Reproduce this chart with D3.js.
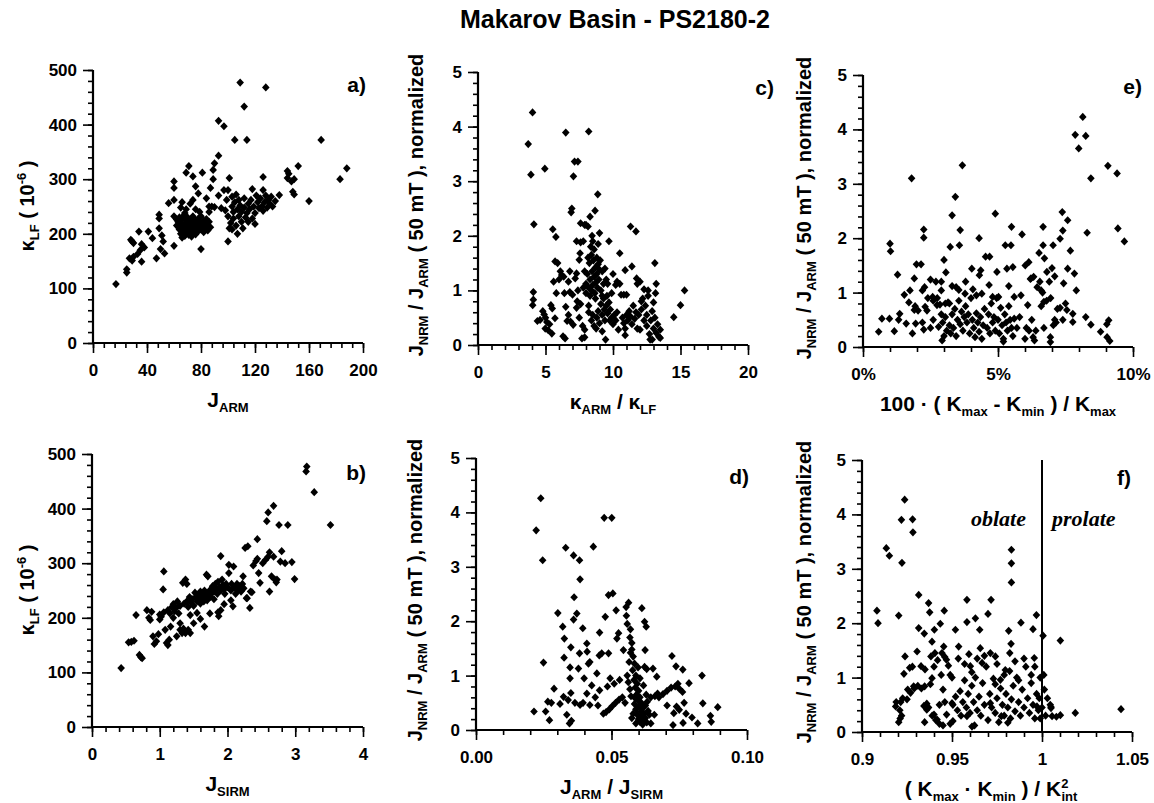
<!DOCTYPE html>
<html>
<head>
<meta charset="utf-8">
<script src="https://d3js.org/d3.v7.min.js"></script>
<style>
  body { margin: 0; background: #fff; }
  text { font-family: "Liberation Sans", Arial, sans-serif; font-weight: bold; fill: #000; }
</style>
</head>
<body>
<div id="grafica"></div>
<script>

// Datos: [x, y] por muestra

// a) J_ARM vs kappa_LF
var aPts = [
  [17,108],[25,135],[25,129],[27,155],[29,151],[30,158],[28,189],[30,183],[29,186],[34,204],[33,163],[35,170],
  [36,181],[36,149],[38,175],[41,204],[44,192],[47,155],[49,235],[49,228],[49,210],[50,172],[51,197],[52,186],
  [53,164],[56,256],[60,296],[60,284],[60,262],[60,178],[60,232],[62,226],
  [65,248],[66,258],[68,238],[69,312],[71,324],[74,305],[76,287],[78,274],[72,255],[74,262],[81,312],[84,265],
  [86,250],[87,284],[89,300],[89,317],[90,329],[93,343],[93,407],[97,397],[105,372],[114,372],[109,477],[112,433],
  [128,468],[80,172],[93,270],[95,247],[97,280],
  [62,215],[63,222],[64,208],[64,230],[65,200],[65,218],[66,212],[66,226],[67,205],[67,233],[68,196],[68,218],
  [69,210],[69,225],[70,203],[70,215],[70,230],[71,198],[71,220],[72,209],[72,226],[73,215],[73,202],[74,220],
  [74,232],[75,207],[75,214],[76,199],[76,224],[77,212],[77,218],[78,205],[78,228],[79,214],[79,221],[80,208],
  [80,232],[81,216],[82,203],[82,224],[83,211],[83,219],[84,227],[85,206],[85,215],[86,222],[87,212],[88,250],
  [90,249],[86,240],[79,240],[76,245],[69,245],[66,193],[73,195],
  [98,243],[99,262],[100,280],[100,232],[101,302],[101,210],[100,186],[102,220],[103,250],[103,268],[104,240],
  [104,228],[105,258],[106,215],[106,272],[107,245],[108,232],[108,262],[109,252],[110,222],[110,240],[111,210],
  [112,265],[112,248],[113,230],[114,238],[115,255],[115,222],[116,245],[117,262],[118,282],[118,228],[119,250],
  [120,238],[121,270],[122,258],[123,247],[124,265],[125,250],[126,304],[126,280],[126,242],[127,258],[128,270],
  [129,248],[130,262],[131,255],[132,268],[133,250],[135,260],[138,271],[144,315],[144,302],[145,310],[147,296],
  [149,300],[148,277],[149,272],[152,324],[160,260],[169,372],[183,300],[188,320],[107,200],[103,208],[120,218]
];

// b) J_SIRM vs kappa_LF
var bPts = [
  [0.43,108],[0.54,155],[0.58,156],[0.62,158],[0.65,205],[0.7,132],[0.72,128],[0.74,126],[0.81,214],[0.84,200],
  [0.86,196],[0.88,211],[0.9,166],[0.92,152],[0.95,157],[0.98,170],[1.0,197],[1.0,206],[1.02,202],[1.05,252],
  [1.06,285],[1.06,210],[1.08,178],[1.1,154],[1.12,150],[1.14,160],[1.16,184],[1.12,214],[1.15,208],[1.18,220],
  [1.2,200],[1.2,225],[1.22,212],[1.24,218],[1.25,166],[1.26,230],[1.28,208],[1.3,222],[1.3,190],[1.33,172],
  [1.35,180],[1.34,264],[1.36,226],[1.38,270],[1.38,172],[1.4,262],[1.4,230],[1.42,220],[1.44,238],[1.45,205],
  [1.46,228],[1.48,234],[1.5,222],[1.52,246],[1.53,238],[1.55,209],[1.55,230],[1.57,240],[1.58,232],[1.6,248],
  [1.6,226],[1.62,236],[1.63,244],[1.65,230],[1.66,184],[1.66,250],[1.68,240],[1.69,279],[1.7,232],[1.71,276],
  [1.72,246],[1.74,238],[1.75,252],[1.76,244],[1.78,258],[1.8,248],[1.8,234],[1.82,262],[1.83,254],[1.85,244],
  [1.86,266],[1.87,203],[1.88,256],[1.9,214],[1.9,313],[1.9,250],[1.92,270],[1.93,260],[1.95,252],[1.96,244],
  [1.98,262],[2.0,256],[2.02,297],[2.02,282],[2.05,250],[2.06,262],[2.08,221],[2.09,294],[2.1,256],[2.12,244],
  [2.14,262],[2.15,250],[2.18,258],[2.2,248],[2.22,262],[2.23,276],[2.24,254],[2.26,328],[2.28,236],[2.29,236],
  [2.3,331],[2.33,218],[2.34,248],[2.36,247],[2.38,296],[2.42,304],[2.44,344],[2.44,308],[2.46,282],[2.48,264],
  [2.52,300],[2.56,306],[2.58,377],[2.6,393],[2.6,312],[2.62,248],[2.62,320],[2.65,276],[2.68,405],[2.68,312],
  [2.7,270],[2.72,265],[2.73,270],[2.76,370],[2.78,303],[2.8,322],[2.85,300],[2.89,370],[2.95,302],[2.99,271],
  [3.16,468],[3.17,477],[3.28,430],[3.52,370],[1.3,178],[1.42,178],[1.5,190],[1.6,198],[1.74,208],[1.86,210],
  [1.95,225],[2.05,232],[1.45,172]
];

// c) kappa_ARM / kappa_LF vs J_NRM / J_ARM
var cPts = [
  [3.72,3.68],[4.04,4.26],[3.92,3.12],[4.14,2.21],[4.1,0.97],[4.1,0.83],[4.05,0.73],[4.4,0.44],[4.6,0.46],[4.8,0.62],
  [4.95,3.23],[4.9,0.56],[5.0,0.5],[5.1,0.42],[4.98,0.3],[5.2,0.27],[5.3,0.38],[5.4,0.73],[5.5,0.67],[5.47,0.21],
  [5.54,2.12],[5.77,1.98],[5.71,1.53],[5.6,1.16],[5.8,0.95],[5.7,0.49],[6.1,1.35],[6.2,1.28],[6.35,1.25],[6.5,3.89],
  [6.3,0.16],[6.45,0.12],[6.5,0.7],[6.7,0.55],[6.7,1.16],[6.6,0.44],[6.95,2.5],[6.9,2.43],[7.07,3.09],[7.15,3.36],
  [7.4,3.36],[6.8,0.97],[7.0,0.92],[7.05,0.37],[6.85,0.43],[7.3,1.31],[7.5,1.56],[7.56,1.68],[7.2,1.22],[7.35,0.8],
  [7.5,0.5],[7.7,0.12],[7.9,0.14],[8.2,3.91],[7.6,2.23],[7.8,1.9],[7.6,1.88],[7.9,2.2],[7.75,0.35],[7.9,0.28],
  [8.87,2.76],[8.67,2.46],[8.3,2.35],[8.15,2.17],[9.7,1.9],[9.0,2.05],[10.5,1.68],[10.0,1.3],[10.3,1.16],[10.9,1.37],
  [11.3,2.17],[11.7,2.08],[11.4,1.44],[11.75,1.22],[12.0,1.16],[12.3,1.02],[13.1,1.5],[13.2,1.12],[13.15,0.95],
  [14.5,0.51],[15.0,0.73],[15.3,1.0],[13.5,0.13],
  [8.0,1.12],[8.1,1.3],[8.2,1.05],[8.25,1.5],[8.3,1.2],[8.35,1.8],[8.4,1.0],[8.4,1.65],[8.45,1.35],[8.5,1.9],
  [8.5,1.1],[8.55,1.55],[8.6,1.25],[8.6,1.75],[8.65,0.95],[8.7,1.42],[8.75,1.15],[8.8,1.6],[8.8,1.3],[8.85,1.05],
  [8.9,1.48],[8.9,1.85],[8.95,1.2],[9.0,1.38],[9.05,1.55],[9.1,1.0],[9.2,1.35],[9.3,1.12],[9.4,1.4],[9.5,1.2],
  [8.3,0.9],[8.15,1.6],[8.0,0.95],[8.45,2.0],[8.7,0.85],
  [8.2,0.6],[8.4,0.45],[8.5,0.55],[8.6,0.35],[8.8,0.5],[8.9,0.62],[9.0,0.4],[9.1,0.75],[9.2,0.55],[9.3,0.85],
  [9.35,0.65],[9.4,0.45],[9.5,0.72],[9.55,0.9],[9.6,0.58],[9.7,0.78],[9.75,0.45],[9.8,0.65],[9.9,0.5],[10.0,0.38],
  [10.1,0.55],[10.2,0.45],[10.3,0.6],[9.45,0.1],[9.2,0.25],[8.75,0.3],[10.4,0.28],[10.6,0.92],[10.8,0.92],[10.7,0.5],
  [10.8,0.4],[10.9,0.3],[11.0,0.55],[10.9,0.18],[11.1,0.45],[11.2,0.62],[11.3,0.52],[11.4,0.38],[11.5,0.72],
  [11.6,0.48],[11.7,0.6],[11.8,0.3],[11.9,0.55],[12.0,0.28],[12.1,0.65],[12.2,0.85],[12.3,0.45],[12.4,0.72],
  [12.5,0.35],[12.5,0.55],[12.6,0.9],[12.7,0.2],[12.8,0.45],[12.9,0.62],[12.75,0.1],[13.0,0.3],[13.1,0.5],
  [13.2,0.22],[13.3,0.38],[13.4,0.15],[13.5,0.28],[13.0,0.78],[12.9,0.1],
  [7.8,1.05],[7.9,1.35],[7.4,1.0],[7.6,0.75],[7.3,0.68],[8.2,0.72],[6.8,1.35],[6.4,0.95],[5.9,1.5],[6.0,1.2],
  [9.6,1.12],[9.9,0.95],[10.2,1.1],[9.2,0.9],[10.5,1.12],[11.0,0.92],[11.8,1.12],[12.6,1.0],[12.1,0.8],[8.0,2.2],[7.3,1.9]
];

// d) J_ARM / J_SIRM vs J_NRM / J_ARM
var dPts = [
  [0.0214,0.34],[0.0222,3.67],[0.0239,4.26],[0.0246,3.12],[0.0249,1.24],[0.0257,0.34],[0.0265,0.52],[0.0271,0.18],
  [0.0278,0.5],[0.0288,0.76],[0.0302,2.15],[0.031,0.48],[0.032,1.9],[0.0326,1.68],[0.0325,1.33],[0.0331,3.35],
  [0.0323,0.61],[0.0335,0.28],[0.0345,0.12],[0.0352,0.17],[0.0347,1.15],[0.0347,0.95],[0.035,1.52],[0.036,3.21],
  [0.0362,2.44],[0.036,2.03],[0.0372,2.14],[0.0382,3.12],[0.0384,2.77],[0.0382,1.41],[0.0378,1.13],[0.0384,0.46],
  [0.0394,1.87],[0.0399,0.95],[0.0409,1.59],[0.041,1.44],[0.0409,0.67],[0.0415,1.22],[0.042,1.25],[0.042,0.46],
  [0.0433,3.37],[0.0427,0.82],[0.0446,1.04],[0.0456,1.79],[0.0456,0.73],[0.0464,1.41],[0.0473,3.9],[0.0501,3.9],
  [0.0489,2.48],[0.0505,2.51],[0.0477,2.08],[0.0489,1.41],[0.0495,0.95],[0.0517,2.2],[0.0526,1.78],[0.052,1.68],
  [0.053,0.92],[0.0544,1.47],[0.0554,2.26],[0.0563,2.34],[0.0612,2.24],[0.0622,1.99],[0.0628,1.9],[0.0624,1.47],
  [0.0622,1.16],[0.063,1.12],[0.0653,1.13],[0.0667,0.98],[0.067,0.67],[0.0658,0.28],[0.0723,1.36],[0.0738,1.17],
  [0.0763,1.11],[0.0786,0.86],[0.0834,1.0],[0.0837,0.49],[0.0892,0.42],[0.0865,0.26],[0.0868,0.15],[0.0818,0.12],
  [0.0797,0.23],[0.0764,0.13],[0.0727,0.09],[0.073,0.31],[0.074,0.43],[0.075,0.37],[0.0775,0.3],[0.0768,0.5],
  [0.0745,0.85],[0.0705,0.45],[0.044,0.6],[0.0455,1.37],[0.0485,0.8],[0.051,0.85],[0.0395,0.5],[0.045,0.45],
  [0.035,0.68],[0.0365,0.5],[0.034,0.55],
  [0.0575,1.48],[0.058,1.35],[0.0585,1.22],[0.0578,1.1],[0.059,1.0],[0.0583,0.92],[0.0595,0.85],[0.0588,0.78],
  [0.06,0.72],[0.0592,0.65],[0.0605,0.6],[0.0598,0.55],[0.061,0.5],[0.0585,0.48],[0.0602,0.44],[0.0615,0.4],
  [0.059,0.38],[0.0608,0.34],[0.062,0.3],[0.0595,0.28],[0.0612,0.25],[0.0625,0.22],[0.06,0.2],[0.0618,0.18],
  [0.0605,0.15],[0.063,0.14],[0.059,0.12],[0.0615,0.1],[0.0625,0.45],[0.0635,0.35],[0.0572,0.62],[0.0568,0.75],
  [0.0562,0.88],[0.0558,1.0],[0.0565,1.25],[0.057,1.42],[0.0598,1.15],[0.0605,0.95],[0.0618,0.82],[0.0628,0.65],
  [0.0632,0.52],[0.064,0.28],[0.0645,0.12],[0.058,0.3],[0.0575,0.22],[0.0588,0.58],
  [0.047,0.3],[0.048,0.33],[0.0492,0.38],[0.0503,0.44],[0.0515,0.5],[0.0528,0.56],[0.054,0.6],[0.055,0.5],
  [0.0645,0.6],[0.066,0.62],[0.0675,0.6],[0.069,0.66],[0.0705,0.72],[0.072,0.78],[0.0735,0.8],[0.075,0.76],[0.0762,0.7],
  [0.0555,2.1],[0.0558,1.95],[0.057,1.85],[0.0568,1.7],[0.0575,1.6]
];

// e) anisotropia 100*(Kmax-Kmin)/Kmax (%) vs J_NRM / J_ARM
var ePts = [
  [0.58,0.28],[0.7,0.52],[0.98,0.52],[1.0,1.9],[1.02,1.76],[1.16,0.29],[1.28,1.33],[1.36,0.61],[1.32,0.5],
  [1.53,0.96],[1.6,0.43],[1.74,1.04],[1.8,3.1],[1.83,0.25],[1.9,1.26],[1.93,0.75],[1.95,0.43],[1.98,1.52],
  [2.04,0.67],[2.15,1.52],[2.25,2.16],[2.25,2.01],[2.25,0.32],[2.3,0.74],[2.2,1.04],[2.28,1.1],[2.37,0.67],
  [2.5,1.24],[2.58,0.92],[2.74,0.77],[2.7,1.2],[2.9,1.2],[2.9,1.04],[2.8,0.37],[2.93,0.12],[3.0,1.6],[3.07,1.37],
  [3.23,1.84],[3.3,2.42],[3.42,2.76],[3.6,2.15],[3.57,1.87],[3.68,3.34],[3.8,1.2],[3.78,0.98],[4.3,2.0],
  [4.31,1.32],[4.36,1.41],[4.07,1.06],[4.03,1.44],[4.54,1.66],[4.69,1.66],[4.67,1.14],[4.9,2.45],[4.96,1.38],
  [5.02,0.92],[5.27,1.87],[5.48,1.87],[5.33,1.44],[5.5,2.21],[5.55,1.47],[5.89,2.07],[6.01,1.5],[6.14,1.56],
  [6.22,1.26],[6.32,1.29],[6.1,0.77],[6.67,2.21],[6.67,1.87],[6.72,1.63],[6.81,1.38],[6.52,1.73],[6.6,1.04],
  [6.7,0.83],[7.04,1.87],[7.3,1.99],[7.38,2.48],[7.4,2.14],[7.43,1.17],[7.58,2.33],[7.68,1.77],[7.58,1.44],
  [7.83,1.35],[7.9,1.04],[7.77,0.61],[7.77,0.46],[7.86,3.9],[7.99,3.65],[8.14,4.23],[8.25,3.88],[8.3,2.1],
  [8.25,0.55],[8.44,3.1],[8.44,0.41],[9.07,3.33],[9.41,3.19],[9.44,2.18],[9.68,1.94],[9.1,0.49],[9.03,0.42],
  [8.8,0.28],[9.04,0.18],[9.14,0.11],[6.94,0.18],[6.94,0.09],
  [2.95,0.45],[3.0,0.2],[3.05,0.55],[3.1,0.3],[3.15,0.82],[3.2,0.4],[3.25,0.25],[3.3,0.6],[3.35,0.35],[3.4,0.7],
  [3.45,0.2],[3.5,0.5],[3.55,0.85],[3.6,0.42],[3.65,0.65],[3.7,0.3],[3.75,0.55],[3.8,0.75],[3.85,0.45],[3.9,0.6],
  [3.95,0.25],[4.0,0.9],[4.05,0.5],[4.1,0.35],[4.15,0.18],[4.2,0.62],[4.25,0.45],[4.3,0.28],[4.35,0.55],[4.4,0.15],
  [4.45,0.4],[4.5,0.7],[3.05,0.8],[3.2,0.8],[3.45,1.1],[3.55,1.05],[3.3,1.12],[4.2,0.95],[4.4,0.98],
  [4.6,0.35],[4.65,0.6],[4.7,0.25],[4.75,0.8],[4.8,0.45],[4.85,0.55],[4.9,0.3],[4.95,0.9],[5.0,0.5],[5.05,0.25],
  [5.1,0.72],[5.15,0.4],[5.2,0.15],[5.25,0.6],[5.3,0.45],[5.35,0.3],[5.4,0.75],[5.45,0.5],[5.5,0.35],[5.55,0.2],
  [5.6,0.52],[5.7,0.35],[5.8,0.55],[5.85,0.95],[5.2,0.1],[4.8,0.92],[5.4,1.12],[5.6,0.92],
  [6.0,0.15],[6.05,0.35],[6.15,0.3],[6.2,1.25],[6.25,0.5],[6.3,0.18],[6.35,0.12],[6.4,0.3],[6.45,1.1],[6.55,1.2],
  [6.6,0.75],[6.65,1.0],[6.9,1.2],[6.95,0.9],[7.0,1.45],[7.05,0.4],[7.1,1.3],[7.15,0.45],[7.2,0.7],[7.3,0.72],
  [7.4,0.5],[7.5,0.8],[7.55,0.68],[7.1,0.5],[6.8,0.85],[6.7,0.35],
  [2.4,0.9],[2.6,0.85],[2.75,0.9],[2.85,0.78],[2.9,0.6],[2.6,0.5],[2.5,0.35],[2.2,0.45],[1.9,0.68],[1.7,0.82]
];

// f) forma (Kmax*Kmin)/Kint^2 vs J_NRM / J_ARM
var fPts = [
  [0.9083,2.23],[0.9089,2.0],[0.9135,3.38],[0.9152,3.24],[0.9187,0.47],[0.919,0.55],[0.9204,2.14],[0.9204,0.18],
  [0.9212,0.25],[0.9219,3.9],[0.9222,3.11],[0.9237,4.27],[0.9233,1.07],[0.9239,1.39],[0.9226,0.62],[0.9281,3.91],
  [0.9283,3.67],[0.9254,0.78],[0.9265,1.18],[0.9287,0.84],[0.9315,2.52],[0.9315,1.91],[0.9306,1.48],[0.9328,1.21],
  [0.9346,1.81],[0.9348,0.84],[0.9344,0.48],[0.9348,0.18],[0.936,0.41],[0.937,2.37],[0.9376,2.2],[0.9383,1.39],
  [0.9389,0.99],[0.9389,1.66],[0.9402,1.88],[0.94,0.32],[0.9417,0.23],[0.9435,1.99],[0.9444,1.45],[0.9454,1.57],
  [0.945,0.78],[0.9457,2.23],[0.9469,1.33],[0.949,1.05],[0.95,0.53],[0.9519,1.88],[0.9537,1.57],[0.9505,0.2],
  [0.9583,2.43],[0.9583,2.02],[0.9594,1.43],[0.9602,1.21],[0.9583,0.29],[0.9611,0.1],[0.963,2.09],[0.9654,1.88],
  [0.9657,1.54],[0.9667,1.27],[0.97,2.17],[0.9717,2.43],[0.9713,1.45],[0.9713,0.53],[0.9741,1.39],[0.9769,0.96],
  [0.9774,0.29],[0.9796,1.14],[0.9815,1.86],[0.9821,1.45],[0.9828,1.62],[0.983,3.35],[0.983,3.1],[0.983,2.75],
  [0.981,0.17],[0.9883,2.01],[0.9969,2.15],[0.995,1.89],[0.9957,1.36],[0.9972,0.47],[1.0006,1.77],[1.001,1.05],
  [1.0013,0.78],[1.0046,0.5],[1.005,0.44],[1.0056,0.29],[1.0102,1.68],[1.0102,0.31],[1.0185,0.35],[1.0439,0.42],
  [0.9505,0.5],[0.952,0.65],[0.953,0.4],[0.9545,0.75],[0.955,0.3],[0.956,0.55],[0.957,0.95],[0.958,0.45],[0.959,0.7],
  [0.96,0.35],[0.961,0.85],[0.962,0.55],[0.9625,0.12],[0.963,1.0],[0.964,0.4],[0.965,0.65],[0.966,0.3],[0.967,0.9],
  [0.968,0.5],[0.969,1.2],[0.97,0.22],[0.971,0.7],[0.972,0.45],[0.973,0.98],[0.974,0.35],[0.975,0.62],[0.976,0.18],
  [0.977,0.8],[0.978,0.5],[0.979,0.3],[0.98,0.7],[0.981,0.45],[0.982,1.12],[0.9825,0.25],[0.983,0.6],[0.984,0.85],
  [0.985,0.38],[0.986,1.0],[0.987,0.55],[0.988,0.3],[0.989,0.78],[0.99,0.45],[0.991,1.2],[0.992,0.62],[0.993,0.35],
  [0.994,0.9],[0.995,0.5],[0.996,0.25],[0.997,0.7],[0.998,0.4],[0.999,1.0],[0.9985,0.62],[0.9535,1.35],[0.957,1.25],
  [0.961,1.1],[0.964,1.35],[0.968,1.4],[0.975,1.25],[0.979,1.05],[0.985,1.3],[0.99,1.35],[0.996,1.2],[0.994,1.05],
  [0.987,0.95],[0.974,0.88],
  [0.921,0.4],[0.922,0.3],[0.9215,0.55],[0.925,0.6],[0.927,0.72],[0.929,0.8],[0.931,0.85],[0.933,0.8],[0.936,0.52],
  [0.937,0.45],[0.939,0.3],[0.941,0.22],[0.943,0.15],[0.945,0.12],[0.947,0.32],[0.949,0.15],[0.938,0.88],[0.94,1.2],
  [0.942,1.32],[0.944,1.05],[0.946,1.38],[0.948,1.22],[0.95,1.0],[0.946,0.55],[0.943,0.5],[0.928,1.2],[0.935,1.15],
  [0.9405,1.45],[1.0,0.45],[1.002,0.3],[1.003,0.62],[1.005,0.46],[1.008,0.28],[0.999,0.25]
];

// Etiquetas de los ejes
var kTicks = [0, 100, 200, 300, 400, 500];
var ratioTicks = [0, 1, 2, 3, 4, 5];
var aXTicks = [0, 40, 80, 120, 160, 200];
var bXTicks = [0, 1, 2, 3, 4];
var cXTicks = [0, 5, 10, 15, 20];
var dXTicks = [0, 0.05, 0.10];
var eXTicks = [0, 5, 10];
var fXTicks = [0.9, 0.95, 1, 1.05];

var svg = d3.select("#grafica")
  .append("svg")
  .attr("width", 1154)
  .attr("height", 803);

// Titulo
svg.append("text")
  .attr("x", 615)
  .attr("y", 28)
  .attr("text-anchor", "middle")
  .style("font-size", "25px")
  .text("Makarov Basin - PS2180-2");

// texto con subindices / superindices
function richText(sel, parts) {
  var shift = 0;
  parts.forEach(function (pt) {
    var kind = pt[1] || "n";
    var target = kind == "sub" ? 5 : (kind == "sup" ? -8 : 0);
    var ts = sel.append("tspan").text(pt[0]).attr("dy", target - shift);
    if (kind != "n") ts.style("font-size", "13px");
    if (pt[2]) ts.attr("dx", pt[2]);
    shift = target;
  });
}

var diamond = "M0,-4.1L3.8,0L0,4.1L-3.8,0Z";

function minorValues(lo, hi, step) {
  var n = Math.round((hi - lo) / step);
  return d3.range(0, n + 1).map(function (i) { return lo + i * step; });
}

function drawPanel(p) {
  var x = d3.scaleLinear().domain(p.xDomain).range([p.left, p.right]);
  var y = d3.scaleLinear().domain(p.yDomain).range([p.bottom, p.top]);
  var g = svg.append("g");

  // ticks menores
  g.append("g")
    .attr("transform", "translate(0," + p.bottom + ")")
    .call(d3.axisBottom(x).tickValues(minorValues(p.xDomain[0], p.xDomain[1], p.xMinor)).tickSize(5).tickFormat(""))
    .call(function (s) { s.select(".domain").remove(); });
  g.append("g")
    .attr("transform", "translate(" + p.left + ",0)")
    .call(d3.axisLeft(y).tickValues(minorValues(p.yDomain[0], p.yDomain[1], p.yMinor)).tickSize(5).tickFormat(""))
    .call(function (s) { s.select(".domain").remove(); });

  // ticks mayores con etiquetas
  g.append("g")
    .attr("transform", "translate(0," + p.bottom + ")")
    .call(d3.axisBottom(x).tickValues(p.xTicks).tickSize(10).tickPadding(11).tickFormat(p.xFormat))
    .call(function (s) { s.select(".domain").remove(); });
  g.append("g")
    .attr("transform", "translate(" + p.left + ",0)")
    .call(d3.axisLeft(y).tickValues(p.yTicks).tickSize(10).tickPadding(6).tickFormat(d3.format("d")))
    .call(function (s) { s.select(".domain").remove(); });
  g.selectAll(".tick line").attr("stroke-width", 1.6);
  g.selectAll(".tick text").style("font-size", "17px");

  // lineas de los ejes
  g.append("line").attr("x1", p.left).attr("x2", p.right).attr("y1", p.bottom).attr("y2", p.bottom)
    .attr("stroke", "black").attr("stroke-width", 2.2);
  g.append("line").attr("x1", p.left).attr("x2", p.left).attr("y1", p.top).attr("y2", p.bottom)
    .attr("stroke", "black").attr("stroke-width", 2.2);

  // puntos
  g.append("g")
    .selectAll("path")
    .data(p.data)
    .enter()
    .append("path")
    .attr("d", diamond)
    .attr("transform", function (d) { return "translate(" + x(d[0]) + "," + y(d[1]) + ")"; })
    .attr("fill", "black");

  // titulo eje x
  var xt = g.append("text")
    .attr("x", (p.left + p.right) / 2 + (p.xTitleDx || 0))
    .attr("y", p.bottom + 64)
    .attr("text-anchor", "middle")
    .style("font-size", "21px");
  richText(xt, p.xTitle);

  // titulo eje y
  var yt = g.append("text")
    .attr("transform", "translate(" + p.yTitleX + "," + p.yTitleY + ") rotate(-90)")
    .attr("text-anchor", "middle")
    .style("font-size", "20px");
  richText(yt, p.yTitle);

  // letra del panel
  g.append("text")
    .attr("x", p.labelX)
    .attr("y", p.labelY)
    .attr("text-anchor", "end")
    .style("font-size", "21px")
    .text(p.label);

  return { x: x, y: y, g: g };
}

var kTitle = [["\u03BA"], ["LF", "sub"], [" ( 10"], ["-6", "sup"], [" )"]];
var ratioTitle = [["J"], ["NRM", "sub"], [" / J"], ["ARM", "sub"], [" ( 50 mT ), normalized"]];

drawPanel({
  data: aPts, label: "a)", labelX: 366, labelY: 92,
  left: 93, right: 363, top: 70, bottom: 343,
  xDomain: [0, 200], yDomain: [0, 500], xTicks: aXTicks, yTicks: kTicks, xMinor: 8, yMinor: 20,
  xFormat: d3.format("d"),
  xTitle: [["J"], ["ARM", "sub"]], yTitle: kTitle, yTitleX: 34, yTitleY: 206
});

drawPanel({
  data: bPts, label: "b)", labelX: 366, labelY: 480,
  left: 92, right: 363, top: 454, bottom: 727,
  xDomain: [0, 4], yDomain: [0, 500], xTicks: bXTicks, yTicks: kTicks, xMinor: 0.2, yMinor: 20,
  xFormat: d3.format("d"),
  xTitle: [["J"], ["SIRM", "sub"]], yTitle: kTitle, yTitleX: 34, yTitleY: 590
});

drawPanel({
  data: cPts, label: "c)", labelX: 774, labelY: 95,
  left: 478, right: 748, top: 72, bottom: 345,
  xDomain: [0, 20], yDomain: [0, 5], xTicks: cXTicks, yTicks: ratioTicks, xMinor: 1, yMinor: 0.2,
  xFormat: d3.format("d"),
  xTitle: [["\u03BA"], ["ARM", "sub"], [" / \u03BA"], ["LF", "sub"]], yTitle: ratioTitle, yTitleX: 423, yTitleY: 205
});

drawPanel({
  data: dPts, label: "d)", labelX: 749, labelY: 484,
  left: 476, right: 747, top: 458, bottom: 730,
  xDomain: [0, 0.10], yDomain: [0, 5], xTicks: dXTicks, yTicks: ratioTicks, xMinor: 0.01, yMinor: 0.2,
  xFormat: d3.format(".2f"),
  xTitle: [["J"], ["ARM", "sub"], [" / J"], ["SIRM", "sub"]], yTitle: ratioTitle, yTitleX: 422, yTitleY: 590
});

drawPanel({
  data: ePts, label: "e)", labelX: 1142, labelY: 94,
  left: 863, right: 1133, top: 75, bottom: 347,
  xDomain: [0, 10], yDomain: [0, 5], xTicks: eXTicks, yTicks: ratioTicks, xMinor: 1, yMinor: 0.2,
  xFormat: function (d) { return d + "%"; },
  xTitle: [["100 \u00B7 ( K"], ["max", "sub"], [" - K"], ["min", "sub"], [" ) / K"], ["max", "sub"]],
  yTitle: ratioTitle, yTitleX: 811, yTitleY: 208
});

var pf = drawPanel({
  data: fPts, label: "f)", labelX: 1131, labelY: 485,
  left: 862, right: 1132, top: 460, bottom: 732,
  xDomain: [0.9, 1.05], yDomain: [0, 5], xTicks: fXTicks, yTicks: ratioTicks, xMinor: 0.01, yMinor: 0.2,
  xFormat: function (d) { return String(d); }, xTitleDx: -6,
  xTitle: [["( K"], ["max", "sub"], [" \u00B7 K"], ["min", "sub"], [" ) / K"], ["2", "sup"], ["int", "sub", -7]],
  yTitle: ratioTitle, yTitleX: 811, yTitleY: 592
});

// linea oblate / prolate en x = 1
pf.g.append("line")
  .attr("x1", pf.x(1)).attr("x2", pf.x(1))
  .attr("y1", pf.y(5)).attr("y2", pf.y(0))
  .attr("stroke", "black").attr("stroke-width", 2);

pf.g.append("text")
  .attr("x", pf.x(1) - 16).attr("y", 526)
  .attr("text-anchor", "end")
  .style("font-family", "'Liberation Serif', 'Times New Roman', serif")
  .style("font-style", "italic")
  .style("font-size", "22px")
  .text("oblate");

pf.g.append("text")
  .attr("x", pf.x(1) + 10).attr("y", 526)
  .attr("text-anchor", "start")
  .style("font-family", "'Liberation Serif', 'Times New Roman', serif")
  .style("font-style", "italic")
  .style("font-size", "22px")
  .text("prolate");

</script>
</body>
</html>
